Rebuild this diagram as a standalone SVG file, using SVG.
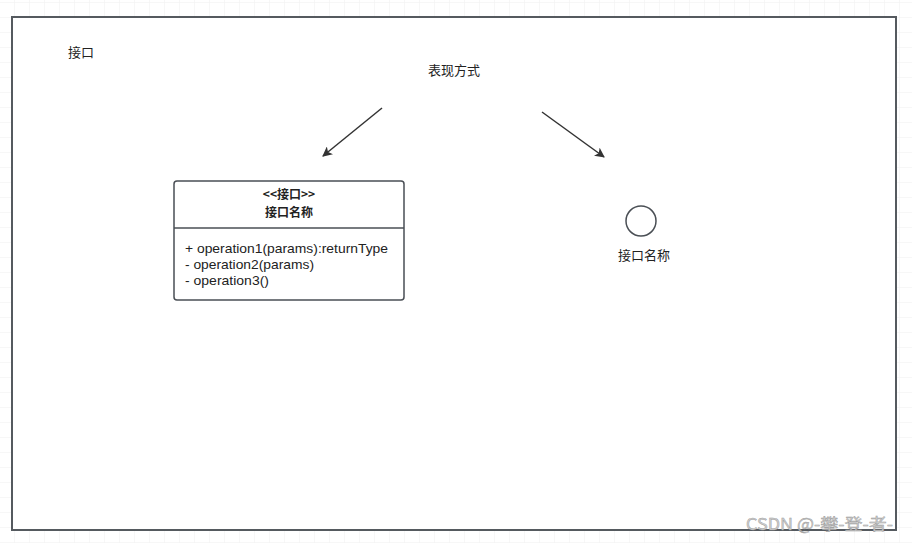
<svg xmlns="http://www.w3.org/2000/svg" width="912" height="543" viewBox="0 0 912 543">
<defs>
<pattern id="grid" x="14" y="2" width="15" height="15" patternUnits="userSpaceOnUse">
<path d="M0 0 H15 M0 0 V15" fill="none" stroke="#efefef" stroke-width="1"/>
</pattern>
<marker id="arr" viewBox="0 0 10 10" refX="9" refY="5" markerWidth="10" markerHeight="10" markerUnits="userSpaceOnUse" orient="auto">
<path d="M0 0 L10 5 L0 10 L2.5 5 Z" fill="#333"/>
</marker>
<style>
.t{font-family:"Noto Sans CJK SC","Microsoft YaHei","Noto Sans",sans-serif;font-size:13px;fill:#222}
.b{font-weight:bold;font-size:12px}
.op{font-family:"Liberation Sans",Arial,sans-serif;font-size:13px;fill:#222}
.shape{fill:#fff;stroke:#4a4f55;stroke-width:1.5}
.conn{stroke:#333;stroke-width:1.5;fill:none}
</style>
</defs>
<rect width="912" height="543" fill="#fff"/>
<rect width="912" height="543" fill="url(#grid)"/>
<g id="frame">
<rect x="12" y="17" width="884" height="513" fill="#fff" stroke="#555a5f" stroke-width="2"/>
</g>
<g id="title">
<text class="t" x="68" y="57">接口</text>
</g>
<g id="label-biaoxian">
<text class="t" x="454" y="75" text-anchor="middle">表现方式</text>
</g>
<g id="class-box">
<rect class="shape" x="174" y="181" width="230" height="119" rx="3"/>
<line x1="174" y1="228" x2="404" y2="228" stroke="#4a4f55" stroke-width="1.5"/>
<text class="t b" x="289" y="199" text-anchor="middle">&lt;&lt;接口&gt;&gt;</text>
<text class="t b" x="289" y="217" text-anchor="middle">接口名称</text>
<text class="op" x="185" y="253" textLength="203" lengthAdjust="spacingAndGlyphs">+ operation1(params):returnType</text>
<text class="op" x="185" y="269" textLength="129" lengthAdjust="spacingAndGlyphs">- operation2(params)</text>
<text class="op" x="185" y="285" textLength="84" lengthAdjust="spacingAndGlyphs">- operation3()</text>
</g>
<g id="lollipop">
<circle class="shape" cx="641" cy="221" r="15"/>
<text class="t" x="644" y="260" text-anchor="middle">接口名称</text>
</g>
<g id="connectors">
<line class="conn" x1="382" y1="108" x2="323" y2="156" marker-end="url(#arr)"/>
<line class="conn" x1="542" y1="112" x2="604" y2="157" marker-end="url(#arr)"/>
</g>
<g id="watermark">
<text x="746" y="530" font-family="'Noto Sans CJK SC','Noto Sans',sans-serif" font-size="16" fill="#d0d0d0" stroke="#999" stroke-width="0.4" textLength="147" lengthAdjust="spacingAndGlyphs">CSDN @-攀-登-者-</text>
</g>
</svg>
